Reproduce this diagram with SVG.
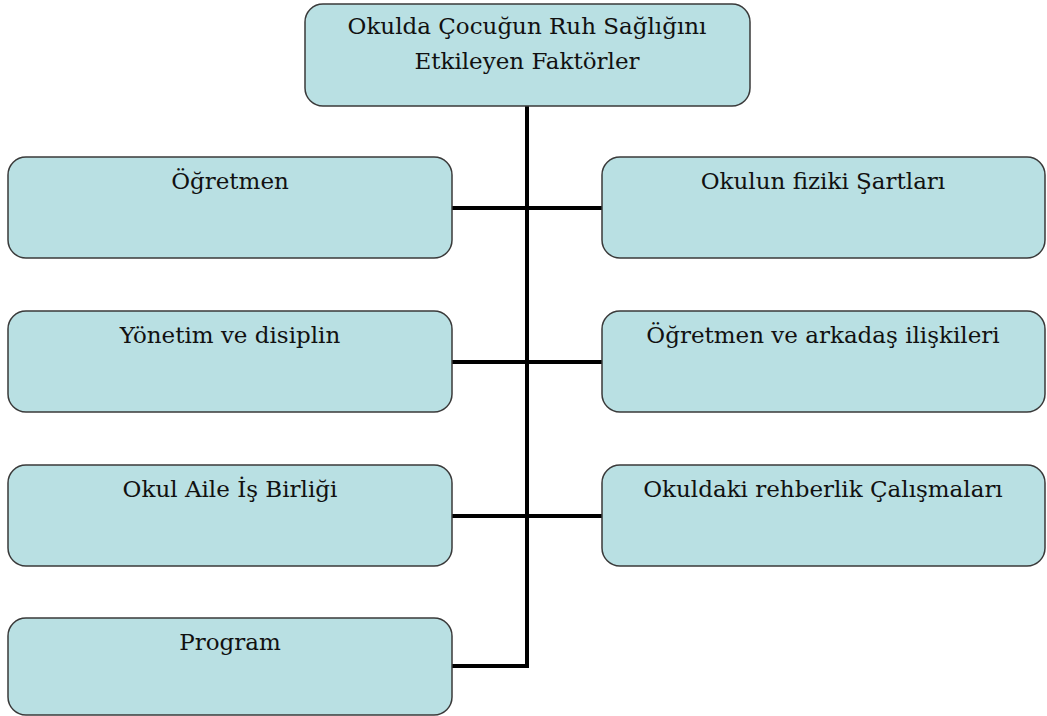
<svg xmlns="http://www.w3.org/2000/svg" width="1047" height="716" viewBox="0 0 1047 716">
<style>
.box{fill:#b9e0e3;stroke:#3a3a3a;stroke-width:1.5}
.t{font-family:"DejaVu Serif","Liberation Serif",serif;font-size:23px;fill:#111;text-anchor:middle}
.c{fill:none;stroke:#000;stroke-width:4}
</style>
<rect width="1047" height="716" fill="#fff"/>
<g id="connectors">
<path class="c" d="M527 106 V666 H452"/>
<path class="c" d="M452 208 H602"/>
<path class="c" d="M452 362 H602"/>
<path class="c" d="M452 516 H602"/>
</g>
<g id="root"><rect class="box" x="305" y="4" width="445" height="102" rx="18"/>
<text class="t" x="527" y="34">Okulda Çocuğun Ruh Sağlığını</text>
<text class="t" x="527" y="69">Etkileyen Faktörler</text></g>
<g id="n1"><rect class="box" x="8" y="157" width="444" height="101" rx="18"/><text class="t" x="230" y="189">Öğretmen</text></g>
<g id="n2"><rect class="box" x="8" y="311" width="444" height="101" rx="18"/><text class="t" x="230" y="343">Yönetim ve disiplin</text></g>
<g id="n3"><rect class="box" x="8" y="465" width="444" height="101" rx="18"/><text class="t" x="230" y="497">Okul Aile İş Birliği</text></g>
<g id="n4"><rect class="box" x="8" y="618" width="444" height="97" rx="18"/><text class="t" x="230" y="650">Program</text></g>
<g id="n5"><rect class="box" x="602" y="157" width="443" height="101" rx="18"/><text class="t" x="823" y="189">Okulun fiziki Şartları</text></g>
<g id="n6"><rect class="box" x="602" y="311" width="443" height="101" rx="18"/><text class="t" x="823" y="343">Öğretmen ve arkadaş ilişkileri</text></g>
<g id="n7"><rect class="box" x="602" y="465" width="443" height="101" rx="18"/><text class="t" x="823" y="497">Okuldaki rehberlik Çalışmaları</text></g>
</svg>
